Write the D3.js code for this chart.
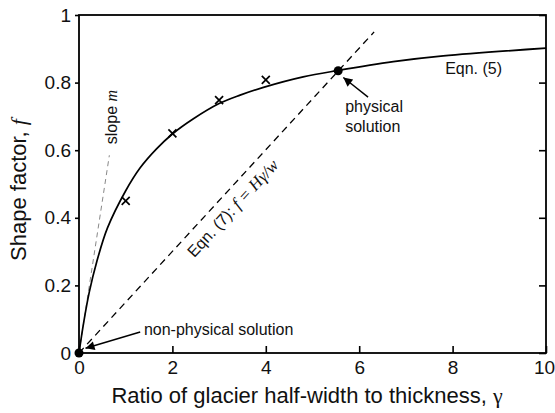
<!DOCTYPE html>
<html>
<head>
<meta charset="utf-8">
<script src="https://cdn.jsdelivr.net/npm/d3@7"></script>
<style>
  html, body { margin: 0; padding: 0; background: #fff; }
  svg { display: block; font-family: "Liberation Sans", Arial, Helvetica, sans-serif; }
</style>
</head>
<body>
<svg id="chart" width="555" height="413"></svg>
<script>
// ---- data ----
const curveGamma = [0, 0.1, 0.22, 0.38, 0.61, 1.0, 1.31, 1.66, 2.0, 2.45, 3.0, 3.45, 3.95, 4.8, 5.55, 6.73, 7.8, 10];
const curveF     = [0, 0.09, 0.18, 0.27, 0.37, 0.48, 0.548, 0.604, 0.648, 0.693, 0.738, 0.763, 0.786, 0.817, 0.836, 0.862, 0.879, 0.902];
const crossGamma = [1, 2, 3, 4];
const crossF     = [0.45, 0.65, 0.748, 0.808];
const eqn7Gamma  = [0, 6.32];
const eqn7F      = [0, 0.95];
const slopeGamma = [0, 0.65];
const slopeF     = [0, 0.585];
const solGamma   = [0, 5.55];
const solF       = [0, 0.835];
const xTicks = [0, 2, 4, 6, 8, 10];
const yTicks = [0, 0.2, 0.4, 0.6, 0.8, 1];
const yTickLabels = ["0", "0.2", "0.4", "0.6", "0.8", "1"];

// ---- layout ----
const svg = d3.select("#chart");
const L = 79, R = 546, T = 15, B = 353;
const x = d3.scaleLinear().domain([0, 10]).range([L, R]);
const y = d3.scaleLinear().domain([0, 1]).range([B, T]);

const defs = svg.append("defs");
defs.append("marker").attr("id", "arr")
  .attr("viewBox", "0 0 10 10").attr("refX", 10).attr("refY", 5)
  .attr("markerWidth", 12).attr("markerHeight", 9).attr("markerUnits", "userSpaceOnUse")
  .attr("orient", "auto")
  .append("path").attr("d", "M0,0 L10,5 L0,10 Z").attr("fill", "#000");

// axes
const xAxis = d3.axisBottom(x).tickValues(xTicks).tickSizeInner(-7).tickSizeOuter(0).tickPadding(8)
  .tickFormat(d3.format("d"));
const gx = svg.append("g").attr("transform", `translate(0,${B})`).call(xAxis);
const yAxis = d3.axisLeft(y).tickValues(yTicks).tickSizeInner(4).tickSizeOuter(0).tickPadding(4)
  .tickFormat((d, i) => yTickLabels[i]);
const gy = svg.append("g").attr("transform", `translate(${L},0)`).call(yAxis);
const yAxisR = d3.axisRight(y).tickValues(yTicks).tickSizeInner(-7).tickSizeOuter(0).tickFormat("");
const gyr = svg.append("g").attr("transform", `translate(${R},0)`).call(yAxisR);
[gx, gy, gyr].forEach(g => {
  g.select(".domain").remove();
  g.selectAll(".tick line").attr("stroke", "#000").attr("stroke-width", 1.6);
  g.selectAll(".tick text").attr("font-size", 19).attr("fill", "#111")
    .attr("font-family", "'Liberation Sans', Arial, sans-serif");
});
gx.selectAll(".tick text").attr("dy", "0.71em")
  .attr("dx", d => d === 10 ? -2 : 0);

svg.append("rect").attr("x", L).attr("y", T).attr("width", R - L).attr("height", B - T)
  .attr("fill", "none").attr("stroke", "#000").attr("stroke-width", 1.8);

// slope m line
svg.append("path")
  .datum(slopeGamma.map((g, i) => [g, slopeF[i]]))
  .attr("d", d3.line().x(d => x(d[0])).y(d => y(d[1])))
  .attr("fill", "none").attr("stroke", "#888").attr("stroke-width", 1).attr("stroke-dasharray", "5,4");

// Eqn 7 line
svg.append("path")
  .datum(eqn7Gamma.map((g, i) => [g, eqn7F[i]]))
  .attr("d", d3.line().x(d => x(d[0])).y(d => y(d[1])))
  .attr("fill", "none").attr("stroke", "#000").attr("stroke-width", 1.3).attr("stroke-dasharray", "7,5");

// Eqn 5 curve
svg.append("path")
  .datum(curveGamma.map((g, i) => [g, curveF[i]]))
  .attr("d", d3.line().curve(d3.curveCatmullRom.alpha(0.5)).x(d => x(d[0])).y(d => y(d[1])))
  .attr("fill", "none").attr("stroke", "#000").attr("stroke-width", 1.7);

// crosses
const cs = 4;
svg.append("g").selectAll("path").data(crossGamma.map((g, i) => [g, crossF[i]])).join("path")
  .attr("d", d => {
    const px = x(d[0]), py = y(d[1]);
    return `M${px - cs},${py - cs}L${px + cs},${py + cs}M${px - cs},${py + cs}L${px + cs},${py - cs}`;
  })
  .attr("stroke", "#000").attr("stroke-width", 1.7);

// solution dots
svg.append("g").selectAll("circle").data(solGamma.map((g, i) => [g, solF[i]])).join("circle")
  .attr("cx", d => x(d[0])).attr("cy", d => y(d[1])).attr("r", 4.5).attr("fill", "#000");

// arrows
const arrows = [
  [[6.19, 0.757], [5.66, 0.815]],
  [[1.31, 0.062], [0.14, 0.014]]
];
svg.append("g").selectAll("line").data(arrows).join("line")
  .attr("x1", d => x(d[0][0])).attr("y1", d => y(d[0][1]))
  .attr("x2", d => x(d[1][0])).attr("y2", d => y(d[1][1]))
  .attr("stroke", "#000").attr("stroke-width", 1.4).attr("marker-end", "url(#arr)");

// annotations
const ann = svg.append("g").attr("font-size", 16).attr("fill", "#111");
ann.append("text").attr("x", x(7.84)).attr("y", y(0.825)).text("Eqn. (5)");
ann.append("text").attr("x", x(5.70)).attr("y", y(0.712)).text("physical");
ann.append("text").attr("x", x(5.70)).attr("y", y(0.655)).text("solution");
ann.append("text").attr("x", x(1.39)).attr("y", y(0.054)).text("non-physical solution");

const sl = ann.append("text")
  .attr("transform", `translate(${x(0.805)},${y(0.698)}) rotate(-90)`)
  .attr("text-anchor", "middle");
sl.append("tspan").text("slope ");
sl.append("tspan").attr("font-family", "'Liberation Serif', 'Times New Roman', serif").attr("font-style", "italic").text("m");

const ang = Math.atan2(y(eqn7F[1]) - y(0), x(eqn7Gamma[1]) - x(0)) * 180 / Math.PI;
const e7 = ann.append("text")
  .attr("transform", `translate(${x(3.38)},${y(0.417)}) rotate(${ang})`)
  .attr("text-anchor", "middle");
e7.append("tspan").text("Eqn. (7): ");
e7.append("tspan").attr("font-family", "'Liberation Serif', 'Times New Roman', serif").attr("font-style", "italic")
  .attr("font-size", 17).text("f = Hγ/w");

// axis titles
const xt = svg.append("text").attr("x", 307).attr("y", 403).attr("text-anchor", "middle")
  .attr("font-size", 22).attr("fill", "#111");
xt.append("tspan").text("Ratio of glacier half-width to thickness, ");
xt.append("tspan").attr("font-family", "'Liberation Serif', 'Times New Roman', serif").text("γ");

const yt = svg.append("text").attr("transform", "translate(26,190) rotate(-90)").attr("text-anchor", "middle")
  .attr("font-size", 22).attr("fill", "#111");
yt.append("tspan").text("Shape factor, ");
yt.append("tspan").attr("font-family", "'Liberation Serif', 'Times New Roman', serif").attr("font-style", "italic").text("f");
</script>
</body>
</html>
